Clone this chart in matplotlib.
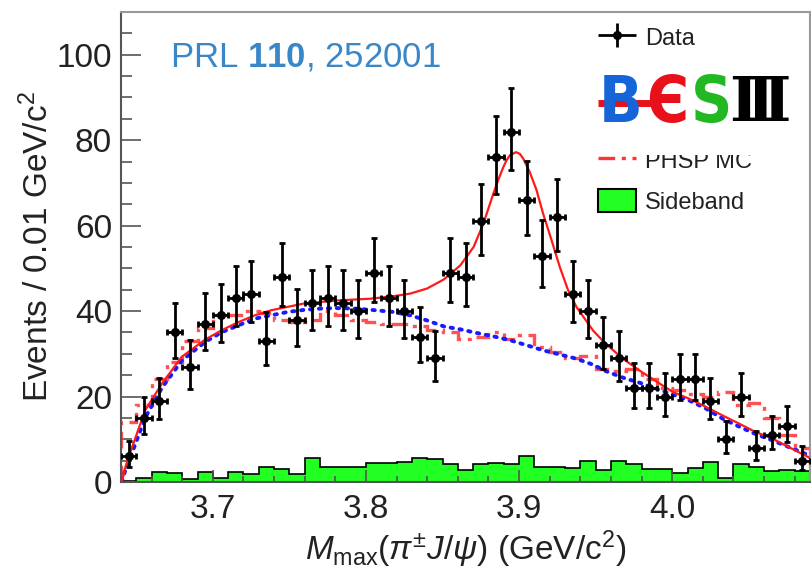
import numpy as np
import matplotlib
matplotlib.use('Agg')
import matplotlib.pyplot as plt
from matplotlib.patches import Rectangle, Patch
from matplotlib.lines import Line2D
from matplotlib import font_manager as fm
from matplotlib.ticker import MultipleLocator, FixedLocator
from matplotlib.legend_handler import HandlerErrorbar
from matplotlib.container import ErrorbarContainer

plt.rcParams['font.family'] = ['Liberation Sans', 'DejaVu Sans']
plt.rcParams['mathtext.fontset'] = 'custom'
plt.rcParams['mathtext.rm'] = 'Liberation Sans'
plt.rcParams['mathtext.it'] = 'Liberation Sans:italic'
plt.rcParams['mathtext.bf'] = 'Liberation Sans:bold'

# ---------------- data ----------------
bin_edges = np.round(np.arange(3.64, 4.0901, 0.01), 3)
bin_centers = np.round(bin_edges[:-1] + 0.005, 3)

counts = [6, 15, 19, 35, 27, 37, 39, 43, 44, 33, 48, 38, 42, 43, 42, 40,
          49, 43, 40, 34, 29, 49, 48, 61, 76, 82, 66, 53, 62, 44, 40, 32,
          29, 22, 22, 20, 24, 24, 19, 10, 20, 8, 11, 13, 5]

sideband = [0.3, 1.0, 2.3, 2.0, 0.8, 2.3, 0.9, 2.4, 1.8, 3.4, 3.0, 1.8, 5.7,
            3.4, 3.4, 3.6, 4.5, 4.5, 4.6, 5.6, 5.3, 4.2, 2.9, 4.3, 4.5, 4.3,
            6.2, 3.4, 3.4, 3.2, 5.0, 2.9, 4.8, 4.2, 3.0, 3.0, 2.2, 3.3, 4.7,
            1.0, 4.2, 3.5, 2.5, 2.8, 2.6]

phsp = [14, 18, 24, 28, 33, 36, 39, 39, 40, 39.5, 38, 37.5, 38, 40, 39,
        38, 37.5, 37, 37, 36.5, 35.5, 35, 33.5, 34, 35, 33.5, 34.5, 31.5,
        30.5, 29, 29.5, 26.5, 26, 26.5, 24, 22, 21.5, 20.5, 20, 21, 18,
        18.5, 15, 11, 8]

fit_x = [3.6405, 3.643, 3.6473, 3.6558, 3.6667, 3.6797, 3.6948, 3.7057, 3.7165,
         3.7273, 3.7381, 3.749, 3.7598, 3.7815, 3.803, 3.8183, 3.829, 3.84,
         3.8508, 3.8616, 3.8703, 3.8767, 3.8832, 3.8865, 3.8897, 3.8918, 3.8941,
         3.898, 3.9005, 3.9027, 3.907, 3.9114, 3.9157, 3.9212, 3.9266, 3.932,
         3.9374, 3.9482, 3.9558, 3.9677, 3.9786, 3.9894, 4.0002, 4.011, 4.0219,
         4.0327, 4.0435, 4.0544, 4.0652, 4.076, 4.0869, 4.09]
fit_y = [0.0, 3.6, 8.2, 16.8, 23.0, 29.3, 33.3, 35.5, 37.4,
         39.0, 40.2, 41.0, 41.8, 42.5, 42.9, 43.5, 44.1, 45.3,
         47.4, 50.7, 55.0, 60.5, 67.5, 70.8, 73.7, 75.3, 76.5,
         77.2, 76.8, 75.7, 72.5, 68.3, 62.8, 56.6, 50.3, 44.9,
         41.0, 35.5, 32.6, 28.9, 26.1, 23.6, 21.1, 19.5, 17.6,
         15.6, 13.7, 11.7, 10.2, 8.2, 6.2, 5.6]

bkg_x = [3.6405, 3.643, 3.647, 3.656, 3.667, 3.68, 3.695, 3.706, 3.717, 3.727,
         3.738, 3.749, 3.76, 3.771, 3.781, 3.792, 3.803, 3.818, 3.829, 3.84,
         3.851, 3.862, 3.872, 3.883, 3.894, 3.905, 3.916, 3.927, 3.937, 3.948,
         3.957, 3.968, 3.979, 3.989, 4.0, 4.011, 4.022, 4.033, 4.0435, 4.054,
         4.065, 4.076, 4.087, 4.09]
bkg_y = [0.0, 3.0, 6.6, 15.2, 22.2, 28.5, 32.8, 35.1, 36.7, 38.2,
         39.0, 39.8, 40.3, 40.6, 40.7, 40.6, 40.3, 39.8, 39.0, 37.8,
         36.4, 35.7, 34.9, 34.1, 33.2, 32.0, 30.8, 29.8, 28.9, 27.5,
         25.9, 24.4, 23.2, 21.9, 20.5, 19.1, 17.2, 14.8, 13.0, 11.3,
         9.8, 8.2, 6.6, 6.2]

x_ticks = [3.7, 3.8, 3.9, 4.0]
x_ticklabels = ['3.7', '3.8', '3.9', '4.0']
y_ticks = [0, 20, 40, 60, 80, 100]

counts_arr = np.array(counts, dtype=float)
err_lo = np.sqrt(np.clip(counts_arr - 0.25, 0, None))
err_hi = np.sqrt(counts_arr + 0.75) + 1.0

# ---------------- figure ----------------
W, H = 812, 570
fig = plt.figure(figsize=(W / 100, H / 100), dpi=100)
L, R, T, B = 121, 810, 12, 482
ax = fig.add_axes([L / W, 1 - B / H, (R - L) / W, (B - T) / H])

GREEN = '#22ff22'
RED = '#ff1a1a'
BLUE = '#1a1aff'

ax.stairs(sideband, bin_edges, fill=True, facecolor=GREEN, edgecolor='none', zorder=1)
ax.stairs(sideband, bin_edges, color='black', linewidth=1.2, zorder=1.5)

ax.stairs(phsp, bin_edges, color='#ff3333', linewidth=2.4, alpha=0.85,
          linestyle=(0, (5, 2, 1.2, 2)), zorder=2)
ax.plot(bkg_x, bkg_y, color=BLUE, linewidth=2.8, linestyle=(0, (0.6, 1.7)),
        dash_capstyle='round', zorder=3)
ax.plot(fit_x, fit_y, color=RED, linewidth=1.6, zorder=4)

ax.errorbar(bin_centers, counts_arr, yerr=[err_lo, err_hi], xerr=0.005,
            fmt='o', color='black', markersize=5.5, elinewidth=2.0,
            capsize=2.5, capthick=2.0, zorder=5)

ax.set_xlim(3.64, 4.09)
ax.set_ylim(0, 110)
ax.xaxis.set_major_locator(FixedLocator(x_ticks))
ax.set_xticklabels(x_ticklabels)
ax.xaxis.set_minor_locator(MultipleLocator(0.02))
ax.yaxis.set_major_locator(FixedLocator(y_ticks))
ax.yaxis.set_minor_locator(MultipleLocator(5))

ax.tick_params(axis='both', which='both', direction='in', colors='#555555',
               labelcolor='#222222', labelsize=24)
ax.tick_params(axis='y', which='major', length=14.5, width=1.2, pad=6.5)
ax.tick_params(axis='y', which='minor', length=8, width=1.2)
ax.tick_params(axis='x', which='major', length=8.6, width=1.2, pad=9)
ax.tick_params(axis='x', which='minor', length=4.5, width=1.2)
for s in ['left', 'bottom']:
    ax.spines[s].set_color('#555555')
    ax.spines[s].set_linewidth(1.5)
for s in ['top', 'right']:
    ax.spines[s].set_color('#999999')
    ax.spines[s].set_linewidth(1.5)

ax.set_xlabel(r'$M_{\mathrm{max}}(\pi^{\pm}J/\psi)$ (GeV/c$^{2}$)',
              fontsize=24, color='#222222', labelpad=2)
ax.set_ylabel(r'Events / 0.01 GeV/c$^{2}$', fontsize=24, color='#222222',
              labelpad=1)

# PRL reference
fig.text(170 / W, 1 - 57 / H, r'PRL $\mathbf{110}$, 252001', fontsize=25,
         color='#3a87c8', ha='left', va='center')

# legend (rows 2-3 are hidden behind the BESIII logo in the original)
data_proxy = ax.errorbar([np.nan], [np.nan], xerr=[1], yerr=[1], fmt='o',
                         color='black', markersize=5.5, elinewidth=2.0, capsize=0)
handles = [data_proxy,
           Line2D([], [], color=RED, linewidth=1.6),
           Line2D([], [], color=BLUE, linewidth=2.8, linestyle=(0, (0.6, 1.7))),
           Line2D([], [], color='#ff3333', linewidth=2.4, linestyle=(0, (5, 2, 1.2, 2))),
           Patch(facecolor=GREEN, edgecolor='black', linewidth=1.5)]
labels = ['Data', '', '', 'PHSP MC', 'Sideband']
leg = ax.legend(handles, labels, loc='upper left',
                bbox_to_anchor=((598 - L) / (R - L), (B - 25) / (B - T)),
                frameon=False, fontsize=17, borderpad=0, borderaxespad=0,
                handlelength=1.6, handleheight=1.15, handletextpad=0.38,
                labelspacing=0.69,
                handler_map={ErrorbarContainer: HandlerErrorbar(xerr_size=0.8, yerr_size=0.5)})
leg.set_zorder(10)
for t in leg.get_texts():
    t.set_color('#222222')

# BESIII logo over the legend
fig.patches.append(Rectangle((594 / W, 1 - 155 / H), (790 - 594) / W, (155 - 58) / H,
                             transform=fig.transFigure, facecolor='white',
                             edgecolor='none', zorder=20))

cond = None
for f in fm.fontManager.ttflist:
    nm = f.name.lower()
    st = str(f.stretch).lower()
    w = f.weight
    bold = (isinstance(w, (int, float)) and w >= 600) or \
           (isinstance(w, str) and w.lower() in ('bold', 'heavy', 'black', 'extra bold', 'semibold', 'demibold'))
    if bold and ('condensed' in st or 'narrow' in nm or 'condensed' in nm) and 'italic' not in f.style:
        cond = f.fname
        break

def logo_props(size):
    if cond is not None:
        p = fm.FontProperties(fname=cond)
    else:
        p = fm.FontProperties(family=['Liberation Sans', 'DejaVu Sans'], weight='bold')
    p.set_size(size)
    return p

ly = 1 - 104 / H
fig.add_artist(Line2D([598 / W, 660 / W], [1 - 103 / H, 1 - 103 / H], color='#e8101a',
                      linewidth=5, solid_capstyle='butt', zorder=21,
                      transform=fig.transFigure))
fig.text(621 / W, ly, 'B', fontproperties=logo_props(46), color='#1565d8',
         ha='center', va='center', zorder=22)
fig.text(667 / W, ly, 'Є', fontproperties=logo_props(46), color='#e8101a',
         ha='center', va='center', zorder=22)
fig.text(712 / W, ly, 'S', fontproperties=logo_props(46), color='#22b822',
         ha='center', va='center', zorder=22)
fig.text(760 / W, ly, 'Ⅲ', family=['DejaVu Serif', 'DejaVu Sans'], weight='bold',
         fontsize=44, color='black', ha='center', va='center', zorder=22)

fig.savefig('out.png', dpi=100)
